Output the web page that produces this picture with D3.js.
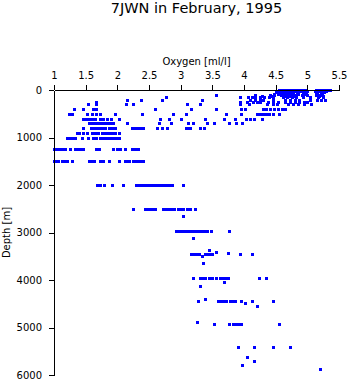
<!DOCTYPE html>
<html>
<head>
<meta charset="utf-8">
<script src="https://cdn.jsdelivr.net/npm/d3@7"></script>
<style>
  html, body { margin: 0; padding: 0; background: #fff; }
  svg { display: block; }
  text { font-family: "DejaVu Sans", sans-serif; fill: #000; }
</style>
</head>
<body>
<script>
const title = "7JWN in February, 1995";
const xTitle = "Oxygen [ml/l]";
const yTitle = "Depth [m]";
const xTicks = [1, 1.5, 2, 2.5, 3, 3.5, 4, 4.5, 5, 5.5];
const yTicks = [0, 1000, 2000, 3000, 4000, 5000, 6000];

const depthLevels = [0, 10, 20, 30, 50, 75, 100, 125, 150, 200, 250, 300, 400, 500, 600, 700, 800, 900, 1000,
  1250, 1500, 2000, 2500, 2650, 2975, 3125, 3375, 3415, 3440, 3460, 3490, 3635, 3950, 4050, 4135,
  4400, 4440, 4480, 4550, 4890, 4935, 5410, 5620, 5705, 5790, 5875];

const oxygenValues = [
  [4.58,4.62,4.66,4.7,4.74,4.78,4.82,4.86,4.9,4.94,5.14,5.2,5.26,5.32],
  [4.55,4.6,4.64,4.68,4.72,4.77,4.81,4.85,4.92,4.97,5.15,5.22,5.28,5.35],
  [4.56,4.63,4.69,4.75,4.8,4.88,4.95,5.0,5.17,5.24],
  [4.52,4.6,4.67,4.73,4.79,4.84,4.9,4.99,5.12,5.19,5.3],
  [4.5,4.57,4.65,4.71,4.76,4.83,4.93,4.98,5.13,5.21,5.27],
  [4.47,4.54,4.61,4.7,4.78,4.86,4.96,5.16,5.23],
  [3.56,4.17,4.41,4.48,4.58,4.66,4.74,4.82,4.91,5.0,5.14,5.2],
  [4.28,4.42,4.65,4.72,4.8,5.18,5.24],
  [2.77,3.93,4.06,4.13,4.18,4.25,4.31,4.4,4.45,4.62,4.68,4.75,4.82,4.93,5.04,5.17,5.25],
  [2.16,2.37,2.71,3.33,4.1,4.17,4.25,4.3,4.46,4.65,4.72,4.8,4.87,5.04,5.15,5.22,5.28],
  [1.66,3.94,4.04,4.14,4.2,4.25,4.38,4.46,4.54,4.65,4.72,4.8,4.87,4.95,5.0],
  [1.53,1.66,2.14,2.25,3.1,3.3,3.93,4.08,4.37,4.46,4.52,4.7,4.78,4.85,4.95,5.06],
  [1.31,1.45,1.62,1.67,2.6,3.17,3.56,3.95,4.01,4.3,4.35,4.41,4.47,4.53,4.6,4.65],
  [1.24,1.29,1.52,1.6,1.66,1.73,1.97,2.39,2.88,3.09,3.72,3.96,4.2,4.25,4.3,4.35,4.4,4.46,4.55],
  [1.46,1.5,1.55,1.6,1.65,1.73,1.77,1.83,1.9,2.02,2.68,2.82,3.0,3.39,3.69,3.86,4.03,4.09,4.15,4.29],
  [1.55,1.59,1.63,1.67,1.71,1.75,1.8,1.84,1.88,1.93,2.15,2.66,2.84,3.12,3.19,3.42,3.53,3.77,3.88,3.97],
  [1.45,1.58,1.62,1.67,1.71,1.76,1.8,1.87,1.91,1.96,2.23,2.27,2.31,2.36,2.4,2.63,2.71,2.78,3.08,3.12,3.15,3.31,3.37],
  [1.36,1.4,1.45,1.52,1.6,1.65,1.7,1.76,1.8,1.84,1.88,1.92,1.97,2.02],
  [1.2,1.25,1.29,1.33,1.44,1.53,1.62,1.66,1.72,1.76,1.8,1.84,1.88,1.93,1.98,2.03],
  [1.0,1.04,1.08,1.13,1.17,1.25,1.33,1.38,1.42,1.46,1.67,1.71,1.93,1.99,2.04,2.12,2.23,2.28,2.33],
  [1.0,1.03,1.07,1.12,1.16,1.2,1.29,1.56,1.6,1.63,1.73,1.77,1.87,2.03,2.12,2.16,2.19,2.25,2.29,2.33,2.37,2.41],
  [1.68,1.72,1.79,1.92,2.09,2.29,2.33,2.37,2.41,2.46,2.5,2.53,2.58,2.63,2.67,2.72,2.77,2.81,2.86,3.03],
  [2.25,2.44,2.48,2.51,2.54,2.59,2.72,2.76,2.8,2.85,2.9,2.95,3.0,3.04,3.1,3.15,3.23],
  [3.03],
  [2.93,2.96,2.99,3.04,3.08,3.12,3.16,3.2,3.24,3.28,3.32,3.35,3.38,3.41,3.48,3.77],
  [3.19],
  [3.44],
  [3.55],
  [3.74],
  [3.16,3.21,3.25,3.29,3.38,3.42,3.46,3.5,3.93,4.12],
  [3.34],
  [3.36],
  [3.2,3.31,3.35,3.39,3.45,3.5,3.55,3.62,3.66,3.7,3.75,4.23,4.34],
  [3.68],
  [3.31],
  [3.39],
  [3.28,3.59,3.63,3.67,3.72,3.78,3.82,3.86,3.96,4.12,4.46],
  [4.02],
  [4.21],
  [3.25],
  [3.52,3.77,3.83,3.88,3.92,3.96,4.56],
  [3.91,4.15,4.45,4.73],
  [4.04],
  [4.16],
  [3.97],
  [5.2]
];

const W = 350, H = 384;
const svg = d3.select("body").append("svg").attr("width", W).attr("height", H);

const x = d3.scaleLinear().domain([1, 5.5]).range([54, 339]);
const y = d3.scaleLinear().domain([0, 6000]).range([90, 375]);

const points = [];
depthLevels.forEach((d, i) => oxygenValues[i].forEach(o => points.push({ depth: d, oxygen: o })));

svg.append("g")
  .selectAll("rect")
  .data(points)
  .join("rect")
  .attr("x", d => Math.round(x(d.oxygen)) - 1)
  .attr("y", d => Math.round(y(d.depth)) - 1)
  .attr("width", 3)
  .attr("height", 3)
  .attr("fill", "#0000ff")
  .attr("shape-rendering", "crispEdges");

const xAxis = svg.append("g")
  .attr("transform", "translate(0,90)")
  .call(d3.axisTop(x).tickValues(xTicks).tickFormat(d => String(d)).tickSize(5).tickSizeOuter(0).tickPadding(6));
const yAxis = svg.append("g")
  .attr("transform", "translate(54,0)")
  .call(d3.axisLeft(y).tickValues(yTicks).tickFormat(d3.format("d")).tickSize(5).tickSizeOuter(0).tickPadding(7));

[xAxis, yAxis].forEach(g => {
  g.selectAll("path, line").attr("stroke", "#000").attr("stroke-width", 1).attr("shape-rendering", "crispEdges");
  g.selectAll("text").style("font-family", "'DejaVu Sans', sans-serif").style("font-size", "10px").attr("fill", "#000");
});

svg.append("text")
  .attr("x", 196.5).attr("y", 13)
  .attr("text-anchor", "middle")
  .style("font-size", "14.5px")
  .text(title);

svg.append("text")
  .attr("x", 196.5).attr("y", 64.5)
  .attr("text-anchor", "middle")
  .style("font-size", "10px")
  .text(xTitle);

svg.append("text")
  .attr("transform", "translate(9.5,232.5) rotate(-90)")
  .attr("text-anchor", "middle")
  .style("font-size", "10px")
  .text(yTitle);
</script>
</body>
</html>
